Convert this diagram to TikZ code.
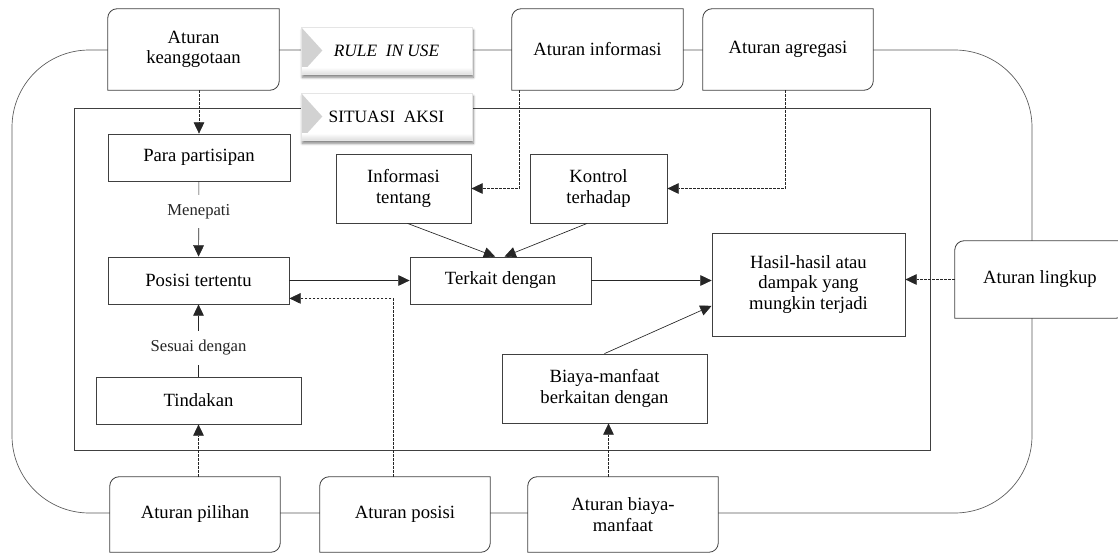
\documentclass[tikz,border=0pt]{standalone}
\usepackage{fontspec}
\setmainfont{Liberation Serif}
\usetikzlibrary{positioning,calc,arrows.meta,shadows.blur}

\tikzset{
  box/.style={draw=black!75, line width=0.6pt, fill=white, align=center, inner sep=2pt, font=\fontsize{14}{15.5}\selectfont},
  rulenode/.style={fill=white, align=center, inner sep=2pt, font=\fontsize{14}{15.5}\selectfont},
  banner/.style={fill=white, draw=gray!20, minimum width=128.25pt, minimum height=35.25pt, font=\fontsize{13}{15}\selectfont,
    blur shadow={shadow xshift=1pt, shadow yshift=-2.5pt, shadow blur steps=6, shadow opacity=50},
    path picture={
      \fill[gray!35] (path picture bounding box.north west) -- ([xshift=16pt]path picture bounding box.west) -- (path picture bounding box.south west) -- cycle;
      \shade[top color=white, bottom color=gray!25] ([yshift=5pt]path picture bounding box.south west) rectangle (path picture bounding box.south east);
    }},
  arr/.style={-{Triangle[length=8.5pt,width=8pt]}, line width=0.5pt, black!85},
  dasharr/.style={arr, dash pattern=on 2pt off 1pt},
  lbl/.style={fill=white, inner xsep=2pt, inner ysep=7pt, font=\fontsize{12.5}{14}\selectfont},
  frame/.style={draw=black!75, line width=0.6pt}
}

% box with two rounded corners (top left, bottom right)
\newcommand{\ruleframe}[1]{%
  \draw[frame] (#1.north east) -- ([xshift=7pt]#1.north west) arc[start angle=90,end angle=180,radius=7pt]
    -- (#1.south west) -- ([xshift=-7pt]#1.south east) arc[start angle=270,end angle=360,radius=7pt] -- cycle;}

\begin{document}
\begin{tikzpicture}[x=0.75pt, y=-0.75pt]
  \useasboundingbox (0,0) rectangle (1118,553);

  % Rules in use loop and action situation
  \draw[black!65, line width=0.5pt, rounded corners=58pt] (12,50) rectangle (1032,513);
  \draw[frame] (74,108) rectangle (930,450);

  % Rule boxes
  \node[rulenode, minimum width=128.25pt, minimum height=60.75pt] (keang) at (193.5,49.5) {Aturan\\keanggotaan};
  \node[rulenode, minimum width=128.25pt, minimum height=60.75pt] (ruleinfo) at (597.5,49.5) {Aturan informasi};
  \node[rulenode, minimum width=127.5pt, minimum height=60.75pt] (ruleagr) at (788,49.5) {Aturan agregasi};
  \node[rulenode, minimum width=127.5pt, minimum height=56.25pt] (rulepilihan) at (195,514.5) {Aturan pilihan};
  \node[rulenode, minimum width=127.5pt, minimum height=56.25pt] (ruleposisi) at (405,514.5) {Aturan posisi};
  \node[rulenode, minimum width=142.5pt, minimum height=56.25pt] (rulebiaya) at (623,514.5) {Aturan biaya-\\manfaat};
  \node[rulenode, minimum width=127.5pt, minimum height=57.75pt] (lingkup) at (1040,279.5) {Aturan lingkup};
  \foreach \n in {keang,ruleinfo,ruleagr,rulepilihan,ruleposisi,rulebiaya,lingkup}
    \ruleframe{\n};

  % Banners
  \node[banner] (ruleuse) at (386.5,50.5) {\textit{RULE\ \ IN USE}};
  \node[banner] (situasi) at (386.5,116.5) {SITUASI\ \ AKSI};

  % Action situation
  \node[box, minimum width=136.5pt, minimum height=35.25pt] (para) at (199,157.5) {Para partisipan};
  \node[box, minimum width=135.75pt, minimum height=35.25pt] (posisi) at (198.5,280.5) {Posisi tertentu};
  \node[box, minimum width=153.75pt, minimum height=35.25pt] (tindakan) at (198.5,400.5) {Tindakan};
  \node[box, minimum width=101.25pt, minimum height=51.75pt] (info) at (403.5,188.5) {Informasi\\tentang};
  \node[box, minimum width=102.75pt, minimum height=51.75pt] (kontrol) at (598.5,188.5) {Kontrol\\terhadap};
  \node[box, minimum width=135.75pt, minimum height=35.25pt] (terkait) at (500.5,280.5) {Terkait dengan};
  \node[box, minimum width=144.75pt, minimum height=77.25pt] (hasil) at (808.5,284.5) {Hasil-hasil atau\\dampak yang\\mungkin terjadi};
  \node[box, minimum width=153.75pt, minimum height=51.75pt] (biaya) at (604.5,388.5) {Biaya-manfaat\\berkaitan dengan};

  % Solid arrows
  \draw[arr] (para) -- node[lbl, pos=0.4] {Menepati} (posisi);
  \draw[arr] (tindakan) -- node[lbl, pos=0.4] {Sesuai dengan} (posisi);
  \draw[arr] (posisi) -- (terkait);
  \draw[arr] (terkait.east) -- (hasil.west |- terkait.east);
  \draw[arr] ([xshift=3pt]info.south) -- ([xshift=-4pt]terkait.north);
  \draw[arr] ([xshift=-8.5pt]kontrol.south) -- ([xshift=3pt]terkait.north);
  \draw[arr] (biaya.north) -- ([yshift=-16pt]hasil.west);

  % Dashed arrows from the rules
  \draw[dasharr] (para.north |- keang.south) -- (para.north);
  \draw[dasharr] ([xshift=6pt]ruleinfo.south west) |- (info.east);
  \draw[dasharr] ([xshift=-2pt]ruleagr.south) |- (kontrol.east);
  \draw[dasharr] ([xshift=-9pt]ruleposisi.north) |- ([yshift=4.5pt]posisi.south east);
  \draw[dasharr] (tindakan.south |- rulepilihan.north) -- (tindakan.south);
  \draw[dasharr] ([xshift=3pt]biaya.south |- rulebiaya.north) -- ([xshift=3pt]biaya.south);
  \draw[dasharr] (lingkup.west) -- (hasil.east |- lingkup.west);
\end{tikzpicture}
\end{document}
